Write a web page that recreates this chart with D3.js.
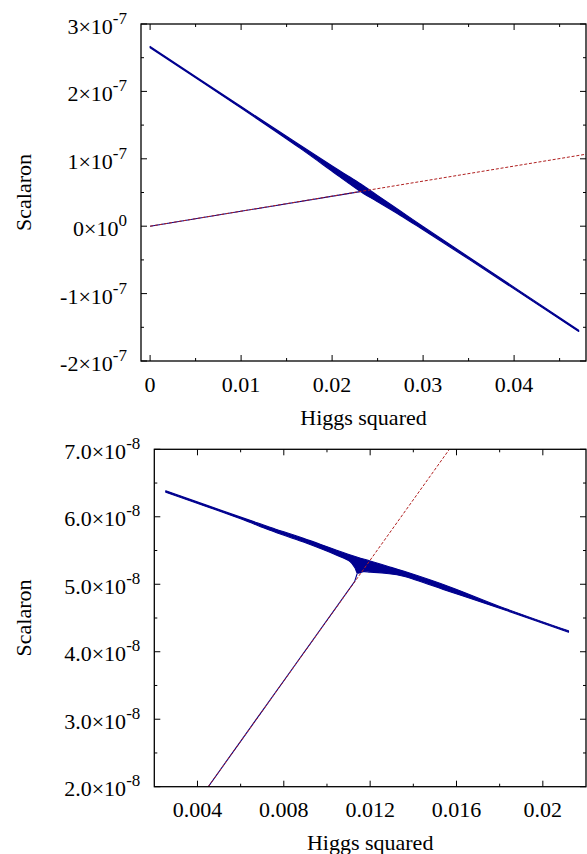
<!DOCTYPE html>
<html><head><meta charset="utf-8">
<script src="https://cdn.jsdelivr.net/npm/d3@7"></script>
<style>
body{margin:0;background:#fff}
svg{display:block}
svg text{font-family:'Liberation Serif','Tinos','Nimbus Roman','Nimbus Roman No9 L','Times New Roman','Times','FreeSerif','Noto Serif','DejaVu Serif',serif;fill:#000}
</style>
</head><body>
<svg id="c" width="587" height="854"></svg>
<script>
// ---------- DATA ----------
// Top panel
const topXTicks = [0, 0.01, 0.02, 0.03, 0.04];
const topXTickLabels = ["0", "0.01", "0.02", "0.03", "0.04"];
const topXMinor = [0.005, 0.015, 0.025, 0.035, 0.045];
const topYTicks = [-2e-7, -1e-7, 0, 1e-7, 2e-7, 3e-7];
const topYTickMant = ["-2", "-1", "0", "1", "2", "3"];
const topYTickExp = ["-7", "-7", "0", "-7", "-7", "-7"];
const topYMinor = [-1.5e-7, -0.5e-7, 0.5e-7, 1.5e-7, 2.5e-7];
const topValley = [[0, 0], [0.0479, 1.068e-7]];                 // red dashed
const topInflow = [[0, 0], [0.0117, 0.26e-7], [0.0234, 0.52e-7]]; // blue on valley
const topBandX     = [0, 0.010, 0.0165, 0.0201, 0.022, 0.0234, 0.0249, 0.0275, 0.0297, 0.035, 0.0471];
const topBandUpper = [2.668e-7, 1.775e-7, 1.200e-7, 0.885e-7, 0.725e-7, 0.605e-7, 0.465e-7, 0.225e-7, 0.022e-7, -0.456e-7, -1.543e-7];
const topBandLower = [2.648e-7, 1.753e-7, 1.155e-7, 0.805e-7, 0.620e-7, 0.490e-7, 0.370e-7, 0.160e-7, -0.028e-7, -0.488e-7, -1.563e-7];

// Bottom panel
const botXTicks = [0.004, 0.008, 0.012, 0.016, 0.02];
const botXTickLabels = ["0.004", "0.008", "0.012", "0.016", "0.02"];
const botXMinor = [0.006, 0.010, 0.014, 0.018];
const botYTicks = [2e-8, 3e-8, 4e-8, 5e-8, 6e-8, 7e-8];
const botYTickMant = ["2.0", "3.0", "4.0", "5.0", "6.0", "7.0"];
const botYTickExp = ["-8", "-8", "-8", "-8", "-8", "-8"];
const botYMinor = [2.5e-8, 3.5e-8, 4.5e-8, 5.5e-8, 6.5e-8];
const botValley = [[0.0045, 2.0e-8], [0.01567, 7.0e-8]];
const botInflow = [[0.0045, 2.0e-8], [0.0080, 3.57e-8], [0.01128, 5.04e-8], [0.0114, 5.16e-8]];
const botBandUpper = [[0.00253, 6.385e-8], [0.0060, 5.995e-8], [0.00736, 5.846e-8], [0.00891, 5.68e-8],
  [0.01045, 5.505e-8], [0.01138, 5.405e-8], [0.0120, 5.345e-8], [0.01277, 5.27e-8], [0.01354, 5.195e-8],
  [0.0157, 4.96e-8], [0.0180, 4.672e-8], [0.02119, 4.31e-8]];
const botBandLower = [[0.00253, 6.365e-8], [0.0060, 5.97e-8], [0.00736, 5.80e-8], [0.00891, 5.625e-8],
  [0.01045, 5.43e-8], [0.01107, 5.335e-8], [0.0113, 5.24e-8], [0.01141, 5.165e-8], [0.01169, 5.187e-8],
  [0.0120, 5.18e-8], [0.01277, 5.16e-8], [0.01354, 5.12e-8], [0.0157, 4.89e-8], [0.0180, 4.645e-8],
  [0.02119, 4.29e-8]];

// ---------- DRAW ----------
const svg = d3.select("#c");
const BLUE = "#00008f", RED = "#b02020";

function panel(o) {
  const x = d3.scaleLinear().domain(o.xDomain).range([o.left, o.right]);
  const y = d3.scaleLinear().domain(o.yDomain).range([o.bottom, o.top]);
  const g = svg.append("g");
  const clipId = "clip" + o.id;
  g.append("clipPath").attr("id", clipId).append("rect")
    .attr("x", o.left).attr("y", o.top).attr("width", o.right - o.left).attr("height", o.bottom - o.top);
  const plot = g.append("g").attr("clip-path", `url(#${clipId})`);
  const line = d3.line().x(d => x(d[0])).y(d => y(d[1]));
  const smooth = d3.line().x(d => x(d[0])).y(d => y(d[1])).curve(d3.curveCatmullRom.alpha(0.5));

  // blue band (trajectory envelope)
  const up = smooth(o.bandUpper);
  const lo = smooth(o.bandLower.slice().reverse());
  plot.append("path").attr("d", up + "L" + lo.slice(1) + "Z")
    .attr("fill", BLUE).attr("stroke", BLUE).attr("stroke-width", 1.1).attr("stroke-linejoin", "round");
  // blue inflow along the valley
  plot.append("path").attr("d", line(o.inflow)).attr("fill", "none")
    .attr("stroke", BLUE).attr("stroke-width", 1.1);
  // red dashed valley line
  plot.append("path").attr("d", line(o.valley)).attr("fill", "none")
    .attr("stroke", RED).attr("stroke-width", 1).attr("stroke-dasharray", "3,1.8");

  // frame
  g.append("rect").attr("x", o.left).attr("y", o.top)
    .attr("width", o.right - o.left).attr("height", o.bottom - o.top)
    .attr("fill", "none").attr("stroke", "#000").attr("stroke-width", 1.3);

  const MAJ = 6, MIN = 3;
  const xt = g.append("g").attr("stroke", "#000").attr("stroke-width", 1);
  o.xTicks.forEach(v => {
    xt.append("line").attr("x1", x(v)).attr("x2", x(v)).attr("y1", o.bottom).attr("y2", o.bottom - MAJ);
    xt.append("line").attr("x1", x(v)).attr("x2", x(v)).attr("y1", o.top).attr("y2", o.top + MAJ);
  });
  o.xMinor.forEach(v => {
    xt.append("line").attr("x1", x(v)).attr("x2", x(v)).attr("y1", o.bottom).attr("y2", o.bottom - MIN);
    xt.append("line").attr("x1", x(v)).attr("x2", x(v)).attr("y1", o.top).attr("y2", o.top + MIN);
  });
  o.yTicks.forEach(v => {
    xt.append("line").attr("x1", o.left).attr("x2", o.left + MAJ).attr("y1", y(v)).attr("y2", y(v));
    xt.append("line").attr("x1", o.right).attr("x2", o.right - MAJ).attr("y1", y(v)).attr("y2", y(v));
  });
  o.yMinor.forEach(v => {
    xt.append("line").attr("x1", o.left).attr("x2", o.left + MIN).attr("y1", y(v)).attr("y2", y(v));
    xt.append("line").attr("x1", o.right).attr("x2", o.right - MIN).attr("y1", y(v)).attr("y2", y(v));
  });

  o.xTicks.forEach((v, i) => {
    g.append("text").attr("x", x(v)).attr("y", o.bottom + 30.5)
      .attr("text-anchor", "middle").attr("font-size", 22).text(o.xTickLabels[i]);
  });
  o.yTicks.forEach((v, i) => {
    const t = g.append("text").attr("x", o.left - 14).attr("y", y(v) + o.yLabelDy)
      .attr("text-anchor", "end").attr("font-size", 22);
    t.append("tspan").text(o.yMant[i] + "\u00d710");
    t.append("tspan").attr("font-size", 17).attr("dy", -10).text(o.yExp[i]);
  });
  g.append("text").attr("x", (o.left + o.right) / 2).attr("y", o.bottom + o.xTitleDy)
    .attr("text-anchor", "middle").attr("font-size", 22).text("Higgs squared");
  g.append("text").attr("transform", `translate(31,${(o.top + o.bottom) / 2}) rotate(-90)`)
    .attr("text-anchor", "middle").attr("font-size", 22).text("Scalaron");
}

panel({
  id: "top", left: 141, right: 586, top: 24, bottom: 361,
  xDomain: [-0.001, 0.0479], yDomain: [-2e-7, 3e-7],
  xTicks: topXTicks, xTickLabels: topXTickLabels, xMinor: topXMinor,
  yTicks: topYTicks, yMant: topYTickMant, yExp: topYTickExp, yMinor: topYMinor,
  valley: topValley, inflow: topInflow,
  bandUpper: topBandX.map((v, i) => [v, topBandUpper[i]]),
  bandLower: topBandX.map((v, i) => [v, topBandLower[i]]),
  yLabelDy: 10, xTitleDy: 64
});
panel({
  id: "bot", left: 154.3, right: 586, top: 449.3, bottom: 786.7,
  xDomain: [0.002, 0.022], yDomain: [2e-8, 7e-8],
  xTicks: botXTicks, xTickLabels: botXTickLabels, xMinor: botXMinor,
  yTicks: botYTicks, yMant: botYTickMant, yExp: botYTickExp, yMinor: botYMinor,
  valley: botValley, inflow: botInflow, bandUpper: botBandUpper, bandLower: botBandLower,
  yLabelDy: 9.5, xTitleDy: 63
});
</script>
</body></html>
